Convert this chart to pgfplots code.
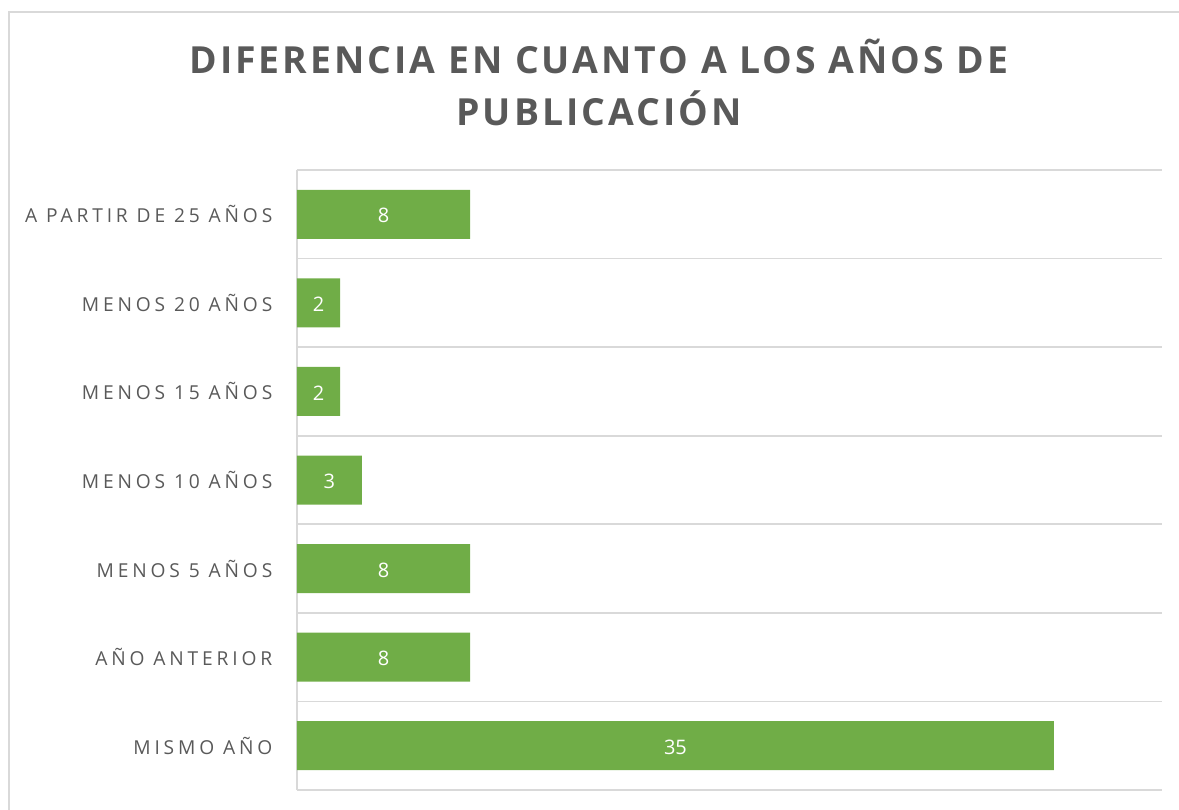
\documentclass[border=0pt]{standalone}
\usepackage{fontspec}
\setmainfont{Open Sans}
\usepackage{pgfplots}
\pgfplotsset{compat=1.18}
\definecolor{barg}{HTML}{70AD47}
\definecolor{txtg}{HTML}{595959}
\definecolor{gridg}{HTML}{D9D9D9}
\newfontfamily\lblfont[LetterSpace=20]{Open Sans}
\newfontfamily\titlefont[LetterSpace=8]{Open Sans}
\begin{document}
\begin{tikzpicture}
\useasboundingbox (0,0) rectangle (884.25pt,-607.5pt);
\draw[gridg, line width=1.2pt] (6.75pt,-9pt) rectangle (900pt,-620pt);
\node[anchor=base, text=txtg, inner sep=0pt, font=\titlefont\fontsize{28}{34}\bfseries\selectfont] at (449.25pt,-55pt) {DIFERENCIA EN CUANTO A LOS AÑOS DE};
\node[anchor=base, text=txtg, inner sep=0pt, font=\titlefont\fontsize{28}{34}\bfseries\selectfont] at (449.25pt,-94.25pt) {PUBLICACIÓN};
\begin{axis}[
  at={(222.75pt,-592.5pt)}, anchor=south west,
  scale only axis, width=648.75pt, height=465pt,
  xbar, bar width=36.75pt, bar shift=0pt,
  xmin=0, xmax=40, ymin=-0.5, ymax=6.5,
  axis x line=none,
  axis y line*=left,
  y axis line style={gridg, line width=1.2pt, -},
  ytick={0,...,6},
  yticklabels={MISMO AÑO, AÑO ANTERIOR, MENOS 5 AÑOS, MENOS 10 AÑOS, MENOS 15 AÑOS, MENOS 20 AÑOS, A PARTIR DE 25 AÑOS},
  yticklabel style={text=txtg, font=\lblfont\fontsize{14.4}{17}\selectfont, xshift=-15pt},
  major tick length=0pt,
  minor ytick={-0.5,0.5,...,6.5},
  minor tick length=0pt,
  yminorgrids=true,
  minor grid style={gridg, line width=1.2pt},
  clip=false,
]
\addplot[fill=barg, draw=none] table[x=v, y=p] {
p v
0 35
1 8
2 8
3 3
4 2
5 2
6 8
};
\addplot[only marks, mark=none, nodes near coords, point meta=explicit symbolic,
  every node near coord/.style={anchor=center, yshift=-1pt, text=white, font=\fontsize{15}{18}\selectfont}]
  table[x expr=\thisrow{v}/2, y=p, meta=v] {
p v
0 35
1 8
2 8
3 3
4 2
5 2
6 8
};
\end{axis}
\end{tikzpicture}
\end{document}
